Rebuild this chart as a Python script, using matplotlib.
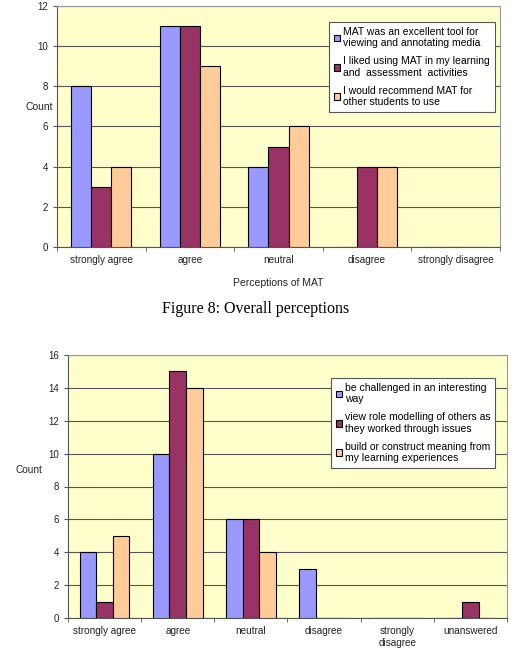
import numpy as np
import matplotlib
matplotlib.use('Agg')
import matplotlib.pyplot as plt

plt.rcParams['font.family'] = ['Liberation Sans', 'DejaVu Sans']

# figure 8 data
cats1 = ['strongly agree', 'agree', 'neutral', 'disagree', 'strongly disagree']
excellent = [8, 11, 4, 0, 0]
liked = [3, 11, 5, 4, 0]
recommend = [4, 9, 6, 4, 0]
labels1 = ['MAT was an excellent tool for\nviewing and annotating media',
           'I liked using MAT in my learning\nand  assessment  activities',
           'I would recommend MAT for\nother students to use']

# second chart data
cats2 = ['strongly agree', 'agree', 'neutral', 'disagree', 'strongly\ndisagree', 'unanswered']
challenged = [4, 10, 6, 3, 0, 0]
role_model = [1, 15, 6, 0, 0, 1]
build = [5, 14, 4, 0, 0, 0]
labels2 = ['be challenged in an interesting\nway',
           'view role modelling of others as\nthey worked through issues',
           'build or construct meaning from\nmy learning experiences']

colors = ['#9999FF', '#993366', '#FFCC99']
W, H = 513, 656


def px_axes(fig, x0, y0, x1, y1):
    return fig.add_axes([x0 / W, 1 - y1 / H, (x1 - x0) / W, (y1 - y0) / H])


def draw(ax, cats, series, labels, ymax, step, leg_box):
    x = np.arange(len(cats))
    w = 0.226
    for i, (vals, col, lab) in enumerate(zip(series, colors, labels)):
        ax.bar(x + (i - 1) * w, vals, w, color=col, edgecolor='black',
               linewidth=0.8, label=lab, zorder=3)
    ax.set_facecolor('#FFFFCC')
    ax.set_xlim(-0.5, len(cats) - 0.5)
    ax.set_ylim(0, ymax)
    ax.set_yticks(np.arange(0, ymax + 1, step))
    ax.yaxis.grid(True, color='#555555', linewidth=0.8, zorder=0)
    ax.set_axisbelow(True)
    ax.set_xticks(x)
    ax.set_xticklabels(cats, fontsize=7.2, color='#222222')
    ax.set_xticks(np.arange(-0.5, len(cats), 1), minor=True)
    ax.tick_params(axis='x', which='major', length=0, pad=6)
    ax.tick_params(axis='x', which='minor', length=3, color='#555555')
    ax.tick_params(axis='y', labelsize=7, length=3, color='#555555', labelcolor='#222222')
    for s in ['top', 'right']:
        ax.spines[s].set_color('#999999')
    ax.spines['left'].set_color('#555555')
    ax.spines['bottom'].set_color('#555555')
    leg = ax.legend(loc='upper left', bbox_to_anchor=leg_box,
                    bbox_transform=ax.figure.transFigure, fontsize=7.5,
                    handlelength=0.6, handleheight=0.6, handletextpad=0.3,
                    borderpad=0.45, labelspacing=0.75, borderaxespad=0,
                    frameon=True, fancybox=False, framealpha=1)
    leg.get_frame().set_edgecolor('#555555')
    leg.get_frame().set_linewidth(0.8)
    return ax


fig = plt.figure(figsize=(W / 100, H / 100), dpi=100)

ax1 = px_axes(fig, 57, 6, 500, 247)
draw(ax1, cats1, [excellent, liked, recommend], labels1, 12, 2,
     (329 / W, 1 - 22 / H))
fig.text(25 / W, 1 - 107 / H, 'Count', fontsize=7.5, ha='left', va='center', color='#222222')
fig.text(278 / W, 1 - 283 / H, 'Perceptions of MAT', fontsize=7.5, ha='center', va='center', color='#222222')

fig.text(256 / W, 1 - 309 / H, 'Figure 8: Overall perceptions', fontsize=11.5,
         family=['Liberation Serif', 'DejaVu Serif'], ha='center', va='center')

ax2 = px_axes(fig, 68, 355, 507, 618)
draw(ax2, cats2, [challenged, role_model, build], labels2, 16, 2,
     (331 / W, 1 - 378 / H))
fig.text(15 / W, 1 - 470 / H, 'Count', fontsize=7.2, ha='left', va='center', color='#222222')

fig.savefig('out.png', dpi=100)
